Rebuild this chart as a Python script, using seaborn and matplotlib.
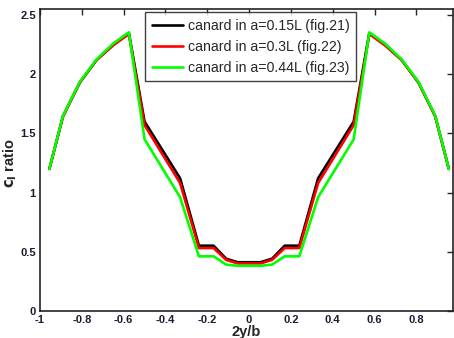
import matplotlib
matplotlib.use("Agg")
import matplotlib.pyplot as plt
import seaborn as sns
import pandas as pd

x = [-0.955, -0.89, -0.81, -0.73, -0.65, -0.575, -0.50, -0.33, -0.24, -0.17, -0.11, -0.055, 0.0,
     0.055, 0.11, 0.17, 0.24, 0.33, 0.50, 0.575, 0.65, 0.73, 0.81, 0.89, 0.955]
black = [1.20, 1.645, 1.93, 2.12, 2.25, 2.35, 1.60, 1.12, 0.55, 0.55, 0.44, 0.41, 0.41,
         0.41, 0.44, 0.55, 0.55, 1.12, 1.60, 2.35, 2.25, 2.12, 1.93, 1.645, 1.20]
red = [1.20, 1.645, 1.93, 2.12, 2.245, 2.34, 1.57, 1.08, 0.53, 0.53, 0.43, 0.40, 0.40,
       0.40, 0.43, 0.53, 0.53, 1.08, 1.57, 2.34, 2.245, 2.12, 1.93, 1.645, 1.20]
green = [1.20, 1.65, 1.935, 2.125, 2.26, 2.355, 1.45, 0.96, 0.46, 0.46, 0.39, 0.38, 0.38,
         0.38, 0.39, 0.46, 0.46, 0.96, 1.45, 2.355, 2.26, 2.125, 1.935, 1.65, 1.20]
labels = ["canard in a=0.15L (fig.21)", "canard in a=0.3L (fig.22)", "canard in a=0.44L (fig.23)"]
colors = ["#000000", "#ff0000", "#00ff00"]
xticks = [-1, -0.8, -0.6, -0.4, -0.2, 0, 0.2, 0.4, 0.6, 0.8]
xticklabels = ["-1", "-0.8", "-0.6", "-0.4", "-0.2", "0", "0.2", "0.4", "0.6", "0.8"]
yticks = [0, 0.5, 1, 1.5, 2, 2.5]
yticklabels = ["0", "0.5", "1", "1.5", "2", "2.5"]

rows = []
for lab, ser in zip(labels, [black, red, green]):
    for i, (xv, yv) in enumerate(zip(x, ser)):
        rows.append({"x": xv, "y": yv, "series": lab, "order": i})
df = pd.DataFrame(rows)

sns.set_style("white")
plt.rcParams["font.family"] = ["Liberation Sans", "DejaVu Sans"]

fig = plt.figure(figsize=(4.54, 3.38), dpi=100)
ax = fig.add_axes([40 / 454, 27.3 / 338, 413 / 454, 301.4 / 338])
sns.lineplot(data=df, x="x", y="y", hue="series", hue_order=labels,
             palette=dict(zip(labels, colors)), sort=False, estimator=None,
             linewidth=1.9, ax=ax, legend=False)

ax.set_xlim(-1, 0.975)
ax.set_ylim(0, 2.55)
ax.set_xticks(xticks)
ax.set_xticklabels(xticklabels, fontweight="bold", fontsize=8, color="#1a1a33")
ax.set_yticks(yticks)
ax.set_yticklabels(yticklabels, fontweight="bold", fontsize=8, color="#1a1a33")
ax.tick_params(direction="in", length=4, width=1, top=True, right=True, pad=3)
for s in ax.spines.values():
    s.set_visible(True)
    s.set_color("#222222")
    s.set_linewidth(1.2)

ax.set_xlabel("2y/b", fontweight="bold", fontsize=10.5, labelpad=0)
ax.set_ylabel(r"$\mathbf{c_l}$ ratio", fontweight="bold", fontsize=10.5)
ax.yaxis.set_label_coords(-0.052, 0.49)

handles = [plt.Line2D([], [], color=c, lw=1.9) for c in colors]
leg = ax.legend(handles, labels, loc="upper left", bbox_to_anchor=(0.255, 0.99),
                fontsize=10.2, frameon=True, fancybox=False, handlelength=2.2,
                borderpad=0.45, labelspacing=0.5, handletextpad=0.35, borderaxespad=0)
leg.get_frame().set_edgecolor("#111111")
leg.get_frame().set_linewidth(1.0)

fig.savefig("out.png", dpi=100)
